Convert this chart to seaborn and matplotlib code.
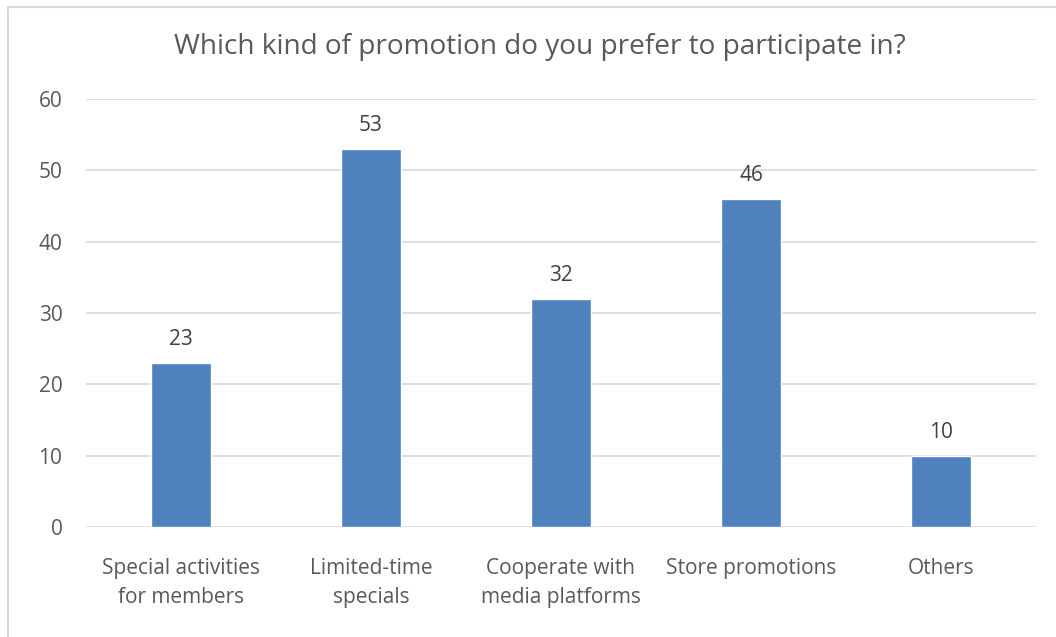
import matplotlib
matplotlib.use("Agg")
import matplotlib.pyplot as plt
import matplotlib.patches as mpatches
import seaborn as sns
import pandas as pd

categories = ["Special activities\nfor members", "Limited-time\nspecials",
              "Cooperate with\nmedia platforms", "Store promotions", "Others"]
counts = [23, 53, 32, 46, 10]
y_ticks = [0, 10, 20, 30, 40, 50, 60]
title = "Which kind of promotion do you prefer to participate in?"

sns.set_theme(style="white")
plt.rcParams["font.family"] = ["Open Sans", "DejaVu Sans"]

df = pd.DataFrame({"category": categories, "count": counts})

fig = plt.figure(figsize=(10.56, 6.37), dpi=100)
ax = fig.add_axes([86 / 1056, 1 - 527 / 637, 950 / 1056, 428 / 637])

sns.barplot(data=df, x="category", y="count", color="#4F81BD", saturation=1,
            width=0.315, ax=ax, zorder=3)

ax.set_ylim(0, 60)
ax.set_yticks(y_ticks)
ax.set_xlim(-0.5, len(categories) - 0.5)
ax.yaxis.grid(True, color="#d9d9d9", linewidth=1.2, zorder=0)
ax.set_axisbelow(True)
for s in ax.spines.values():
    s.set_visible(False)
ax.set_xlabel("")
ax.set_ylabel("")
ax.tick_params(axis="both", length=0, labelsize=15, labelcolor="#595959")
ax.tick_params(axis="y", pad=17)
ax.tick_params(axis="x", pad=22)
for lbl in ax.get_xticklabels():
    lbl.set_linespacing(1.55)

for cont in ax.containers:
    ax.bar_label(cont, labels=[str(v) for v in counts], padding=9,
                 fontsize=15, color="#404040")

fig.text(540 / 1056, 1 - 47 / 637, title, ha="center", va="center",
         fontsize=20.2, color="#595959")

# light outer frame around the chart area
fig.patches.append(mpatches.Rectangle((8 / 1056, -0.01), 1.05, 1 - 7 / 637 + 0.01,
                                      transform=fig.transFigure, fill=False,
                                      edgecolor="#d9d9d9", linewidth=1.5))

fig.savefig("out.png", dpi=100, facecolor="white")
